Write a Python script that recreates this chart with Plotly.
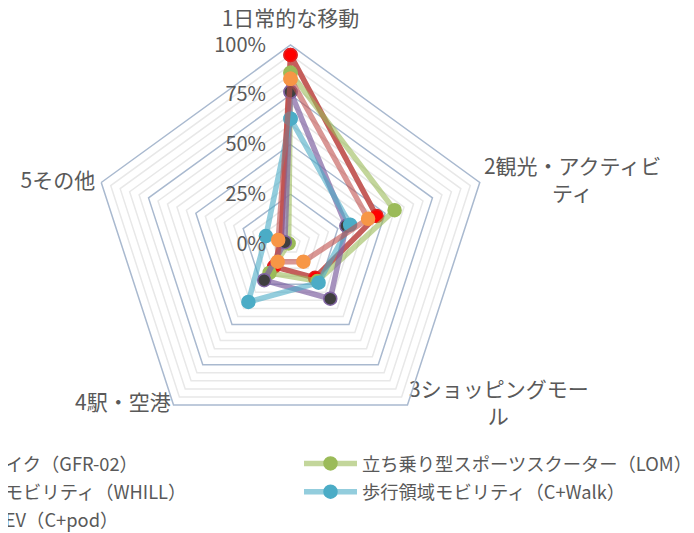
import plotly.graph_objects as go

# ---------------- data ----------------
categories = ["1日常的な移動", "2観光・アクティビティ", "3ショッピングモール", "4駅・空港", "5その他"]
axis_labels = ["1日常的な移動",
               "2観光・アクティビ<br>\u3000\u3000\u3000\u2005ティ",
               "3ショッピングモー<br>\u3000\u3000\u3000\u2002\u2005ル",
               "4駅・空港",
               "5その他"]

name_gfr02 = "電動バイク（GFR-02）"
name_lom = "立ち乗り型スポーツスクーター（LOM）"
name_whill = "近距離モビリティ（WHILL）"
name_cwalk = "歩行領域モビリティ（C+Walk）"
name_cpod = "超小型EV（C+pod）"

gfr02 = [95, 45.5, 21, 14, 5]
lom = [86, 55, 23, 18, 1]
whill = [76.5, 29.5, 34, 22.5, 3]
cwalk = [63, 31.5, 24, 36, 13]
cpod = [83, 41, 11, 11, 6.5]

major_ticks = [25, 50, 75]
minor_ticks = [5, 10, 15, 20, 30, 35, 40, 45, 55, 60, 65, 70, 80, 85, 90, 95]
radial_ticks = [0, 25, 50, 75, 100]
radial_tick_labels = ["0%", "25%", "50%", "75%", "100%"]

# ---------------- style ----------------
FONT = "Noto Sans CJK JP"
TXT = "#595959"
MAJOR = "#A9B9CF"
MINOR = "#E8E8E8"

def closed(v):
    return list(v) + [v[0]]

theta_c = closed(categories)

fig = go.Figure()

# minor gridline pentagons (one trace, gaps between rings)
r_minor, th_minor = [], []
for t in minor_ticks:
    r_minor += [t] * len(theta_c) + [None]
    th_minor += theta_c + [None]
fig.add_trace(go.Scatterpolar(
    r=r_minor, theta=th_minor, mode="lines", connectgaps=False,
    line=dict(color=MINOR, width=1.5), showlegend=False, hoverinfo="skip"))

# major gridline pentagons
for t in major_ticks:
    fig.add_trace(go.Scatterpolar(
        r=[t] * len(theta_c), theta=theta_c, mode="lines",
        line=dict(color=MAJOR, width=1.5), showlegend=False, hoverinfo="skip"))

series = [
    (name_gfr02, gfr02, "rgba(192,80,77,0.92)", "#FF0000", "#E02020", "legend"),
    (name_lom, lom, "rgba(155,187,89,0.6)", "#9BBB59", "#9BBB59", "legend2"),
    (name_whill, whill, "rgba(128,100,162,0.7)", "#3F3F3F", "#8064A2", "legend"),
    (name_cwalk, cwalk, "rgba(75,172,198,0.6)", "#4BACC6", "#4BACC6", "legend2"),
    (name_cpod, cpod, "rgba(192,80,77,0.6)", "#F79646", "#F79646", "legend"),
]

for name, vals, lc, mc, mlc, lg in series:
    fig.add_trace(go.Scatterpolar(
        r=closed(vals), theta=theta_c, mode="lines+markers", name=name,
        line=dict(color=lc, width=5.5),
        marker=dict(color=mc, size=13, line=dict(color=mlc, width=1.5)),
        legend=lg, legendgroup=name))

# category labels
fig.add_trace(go.Scatterpolar(
    r=[100] * len(categories), theta=categories,
    mode="markers+text", text=axis_labels,
    textposition=["top center", "middle right", "middle right", "middle left", "middle left"],
    marker=dict(size=[20, 5, 1, 3, 8], opacity=0),
    textfont=dict(family=FONT, size=21, color=TXT),
    showlegend=False, hoverinfo="skip", cliponaxis=False))

# page body has an 8px margin: work in figure coords = viewport - 8
W, H = 694, 533
cx, cy, R = 282.5, 236, 199

fig.update_layout(
    width=W, height=H,
    margin=dict(l=0, r=0, t=0, b=0, autoexpand=False),
    paper_bgcolor="white",
    font=dict(family=FONT, color=TXT),
    polar=dict(
        domain=dict(x=[(cx - R) / W, (cx + R) / W], y=[(H - cy - R) / H, (H - cy + R) / H]),
        gridshape="linear",
        bgcolor="white",
        angularaxis=dict(type="category", categoryarray=categories, direction="clockwise",
                         rotation=90, showgrid=False, showline=True, linecolor=MAJOR,
                         linewidth=1.5, ticks="", showticklabels=False),
        radialaxis=dict(range=[0, 100], tickvals=radial_ticks, ticktext=radial_tick_labels,
                        showticklabels=True, showgrid=False, showline=False,
                        ticks="outside", ticklen=17, tickcolor="rgba(0,0,0,0)",
                        side="counterclockwise", tickangle=90, angle=90,
                        tickfont=dict(family=FONT, size=20, color=TXT)),
    ),
    legend=dict(x=-121 / W, y=(H - 437) / H, xanchor="left", yanchor="top",
                orientation="v", itemwidth=53, bgcolor="rgba(0,0,0,0)",
                tracegroupgap=1.5, font=dict(family=FONT, size=18.3, color=TXT)),
    legend2=dict(x=291 / W, y=(H - 437) / H, xanchor="left", yanchor="top",
                 orientation="v", itemwidth=53, bgcolor="rgba(0,0,0,0)",
                 tracegroupgap=1.5, font=dict(family=FONT, size=18.3, color=TXT)),
)

fig.write_html("out.html")
